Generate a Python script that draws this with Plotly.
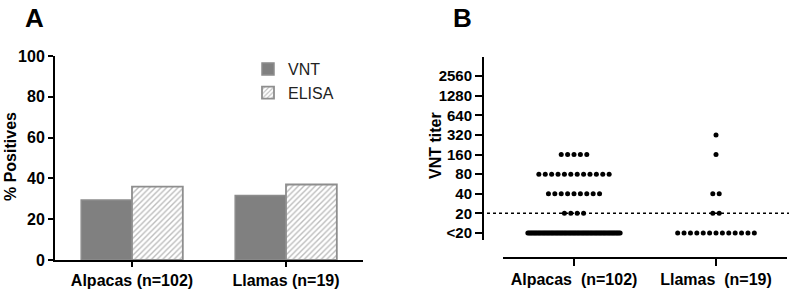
import numpy as np
import plotly.graph_objects as go

# ---------------- data ----------------
categories_a = ["Alpacas (n=102)", "Llamas (n=19)"]
vnt_pct = [29.4, 31.6]
elisa_pct = [36.0, 37.0]

categories_b = ["Alpacas\u00a0 (n=102)", "Llamas\u00a0 (n=19)"]
titer_labels = ["<20", "20", "40", "80", "160", "320", "640", "1280", "2560"]
alpaca_counts = [72, 4, 9, 12, 5, 0, 0, 0, 0]
llama_counts = [13, 2, 2, 0, 1, 1, 0, 0, 0]
cutoff_level = 1  # titer 20

W, H = 790, 290
FONT = "Arial, Liberation Sans, sans-serif"

def px(x):
    return x / W

def py(y):
    return 1 - y / H

fig = go.Figure()

# ---------------- Panel A ----------------
fig.add_trace(go.Bar(
    x=categories_a, y=vnt_pct, name="VNT",
    marker=dict(color="#808080", line=dict(color="#8c8c8c", width=1.5)),
    xaxis="x", yaxis="y"))
fig.add_trace(go.Bar(
    x=categories_a, y=elisa_pct, name="ELISA",
    marker=dict(color="white", line=dict(color="#8e8e8e", width=1.8),
                pattern=dict(shape="/", fgcolor="#7a7a7a", bgcolor="white",
                             size=4, solidity=0.35)),
    xaxis="x", yaxis="y"))

# ---------------- Panel B ----------------
spacing = 0.045
max_w = 0.65
for ci, counts in enumerate([alpaca_counts, llama_counts]):
    xs, ys = [], []
    for lvl, n in enumerate(counts):
        if n == 0:
            continue
        w = min((n - 1) * spacing, max_w)
        offs = np.linspace(-w / 2, w / 2, n) if n > 1 else np.array([0.0])
        xs.extend(list(ci + offs))
        ys.extend([lvl] * n)
    fig.add_trace(go.Scatter(
        x=xs, y=ys, mode="markers", showlegend=False,
        marker=dict(color="black", size=5),
        xaxis="x2", yaxis="y2"))

tickfont = dict(family=FONT, size=16, color="black", weight="bold")
tickfont_b = dict(family=FONT, size=15, color="black", weight="bold")

common = dict(showline=True, linecolor="black", linewidth=2,
              ticks="outside", tickwidth=2, tickcolor="black",
              showgrid=False, zeroline=False,
              automargin=False, fixedrange=True)

fig.update_layout(
    width=W, height=H,
    margin=dict(l=0, r=0, t=0, b=0, autoexpand=False),
    plot_bgcolor="white", paper_bgcolor="white",
    font=dict(family=FONT, color="black"),
    barmode="group", bargap=0.34, bargroupgap=0,
    showlegend=True,
    legend=dict(x=px(248), y=py(52), xanchor="left", yanchor="top",
                font=dict(family=FONT, size=16, color="#222"),
                bgcolor="rgba(0,0,0,0)", tracegroupgap=4, itemwidth=30),
    xaxis=dict(domain=[px(55), px(363)], range=[-0.5, 1.5], anchor="y",
               ticklen=5, tickfont=tickfont, **common),
    yaxis=dict(domain=[py(260), py(56)], range=[0, 100], anchor="x",
               tickvals=[0, 20, 40, 60, 80, 100], ticklen=5,
               tickfont=tickfont, **common),
    xaxis2=dict(domain=[px(503), px(787)], range=[-0.5, 1.5],
                anchor="free", position=py(258),
                tickvals=[0, 1], ticktext=categories_b, ticklen=7,
                tickfont=tickfont, **common),
    yaxis2=dict(domain=[py(240), py(57)], range=[-0.36, 8.98],
                anchor="free", position=px(483),
                tickvals=list(range(len(titer_labels))), ticktext=titer_labels,
                ticklen=7, tickfont=tickfont_b, **common),
    shapes=[dict(type="line", xref="paper", yref="y2",
                 x0=px(487), x1=px(789), y0=cutoff_level, y1=cutoff_level,
                 line=dict(color="black", width=1.5, dash="dot"))],
    annotations=[
        dict(text="<b>A</b>", x=px(23), y=py(1), xref="paper", yref="paper",
             xanchor="left", yanchor="top", showarrow=False,
             font=dict(family=FONT, size=26, color="black")),
        dict(text="<b>B</b>", x=px(451), y=py(1), xref="paper", yref="paper",
             xanchor="left", yanchor="top", showarrow=False,
             font=dict(family=FONT, size=26, color="black")),
        dict(text="<b>% Positives</b>", x=px(10), y=py(157), xref="paper",
             yref="paper", xanchor="center", yanchor="middle", textangle=-90,
             showarrow=False, font=dict(family=FONT, size=16, color="black")),
        dict(text="<b>VNT titer</b>", x=px(435), y=py(146), xref="paper",
             yref="paper", xanchor="center", yanchor="middle", textangle=-90,
             showarrow=False, font=dict(family=FONT, size=16, color="black")),
    ],
)

fig.write_html("out.html",
               config={"displayModeBar": False, "staticPlot": True},
               post_script="document.body.style.margin='0px';"
                           "document.body.style.overflow='hidden';")
